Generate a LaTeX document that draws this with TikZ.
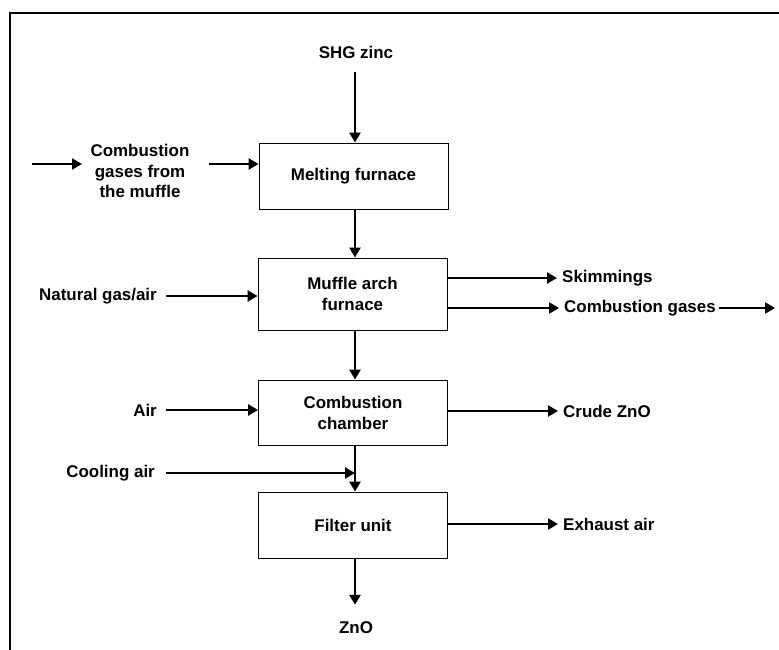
\documentclass[tikz,border=0pt]{standalone}
\usepackage{fontspec}
\setmainfont{Liberation Sans}
\usetikzlibrary{arrows.meta}
\begin{document}
\begin{tikzpicture}[x=1bp,y=-1bp,
  every node/.style={font=\fontsize{17}{21}\selectfont\bfseries},
  procbox/.style={draw,line width=0.9bp,minimum width=189bp,inner sep=0pt,align=center},
  lbl/.style={inner sep=0pt,align=center},
  arr/.style={line width=2.8bp,-{Triangle[length=10bp,width=11bp]}}]
\useasboundingbox (0,0) rectangle (779,650);
% frame
\draw[line width=2bp] (9.5,650) -- (9.5,13) -- (779,13);
% process boxes
\node[procbox,minimum height=66bp] (melt) at (353.5,176) {Melting furnace};
\node[procbox,minimum height=72bp] (muffle) at (352.5,294) {Muffle arch\\furnace};
\node[procbox,minimum height=65bp] (comb) at (353,412.5) {Combustion\\chamber};
\node[procbox,minimum height=66bp] (filter) at (353,525) {Filter unit};
% labels
\node[lbl] (shg) at (356,52) {SHG zinc};
\node[lbl] (cg) at (140,171) {Combustion\\gases from\\the muffle};
\node[lbl,anchor=east] (natgas) at (157,296) {Natural gas/air};
\node[lbl,anchor=east] (air) at (157,410) {Air};
\node[lbl,anchor=east] (cool) at (155,473) {Cooling air};
\node[lbl,anchor=west] (skim) at (562,278) {Skimmings};
\node[lbl,anchor=west] (cgout) at (564,308) {Combustion gases};
\node[lbl,anchor=west] (crude) at (563,411) {Crude ZnO};
\node[lbl,anchor=west] (exh) at (563,524) {Exhaust air};
\node[lbl] (zno) at (356,628) {ZnO};
% free ends
\coordinate (cgin) at (32,164);
\coordinate (cgend) at (775,308);
\coordinate (junc) at (355,473);
% arrows
\draw[arr,shorten <=14bp] (shg.south -| 355,0) -- (melt.north -| 355,0);
\draw[arr] (cgin) -- (cgin -| 82,0);
\draw[arr] (cgin -| 209,0) -- (cgin -| melt.west);
\draw[arr] (melt.south -| 355,0) -- (muffle.north -| 355,0);
\draw[arr,shorten <=9bp] (natgas.east) -- (natgas.east -| muffle.west);
\draw[arr,shorten >=5bp] (skim.west -| muffle.east) -- (skim.west);
\draw[arr,shorten >=5bp] (cgout.west -| muffle.east) -- (cgout.west);
\draw[arr,shorten <=3bp] (cgout.east) -- (cgend);
\draw[arr] (muffle.south -| 355,0) -- (comb.north -| 355,0);
\draw[arr,shorten <=9bp] (air.east) -- (air.east -| comb.west);
\draw[arr,shorten >=5bp] (crude.west -| comb.east) -- (crude.west);
\draw[arr,shorten <=11bp] (cool.east) -- (junc);
\draw[arr] (comb.south -| junc) -- (filter.north -| junc);
\draw[arr,shorten >=5bp] (exh.west -| filter.east) -- (exh.west);
\draw[arr,shorten >=17bp] (filter.south -| 355,0) -- (zno.north -| 355,0);
\end{tikzpicture}
\end{document}
